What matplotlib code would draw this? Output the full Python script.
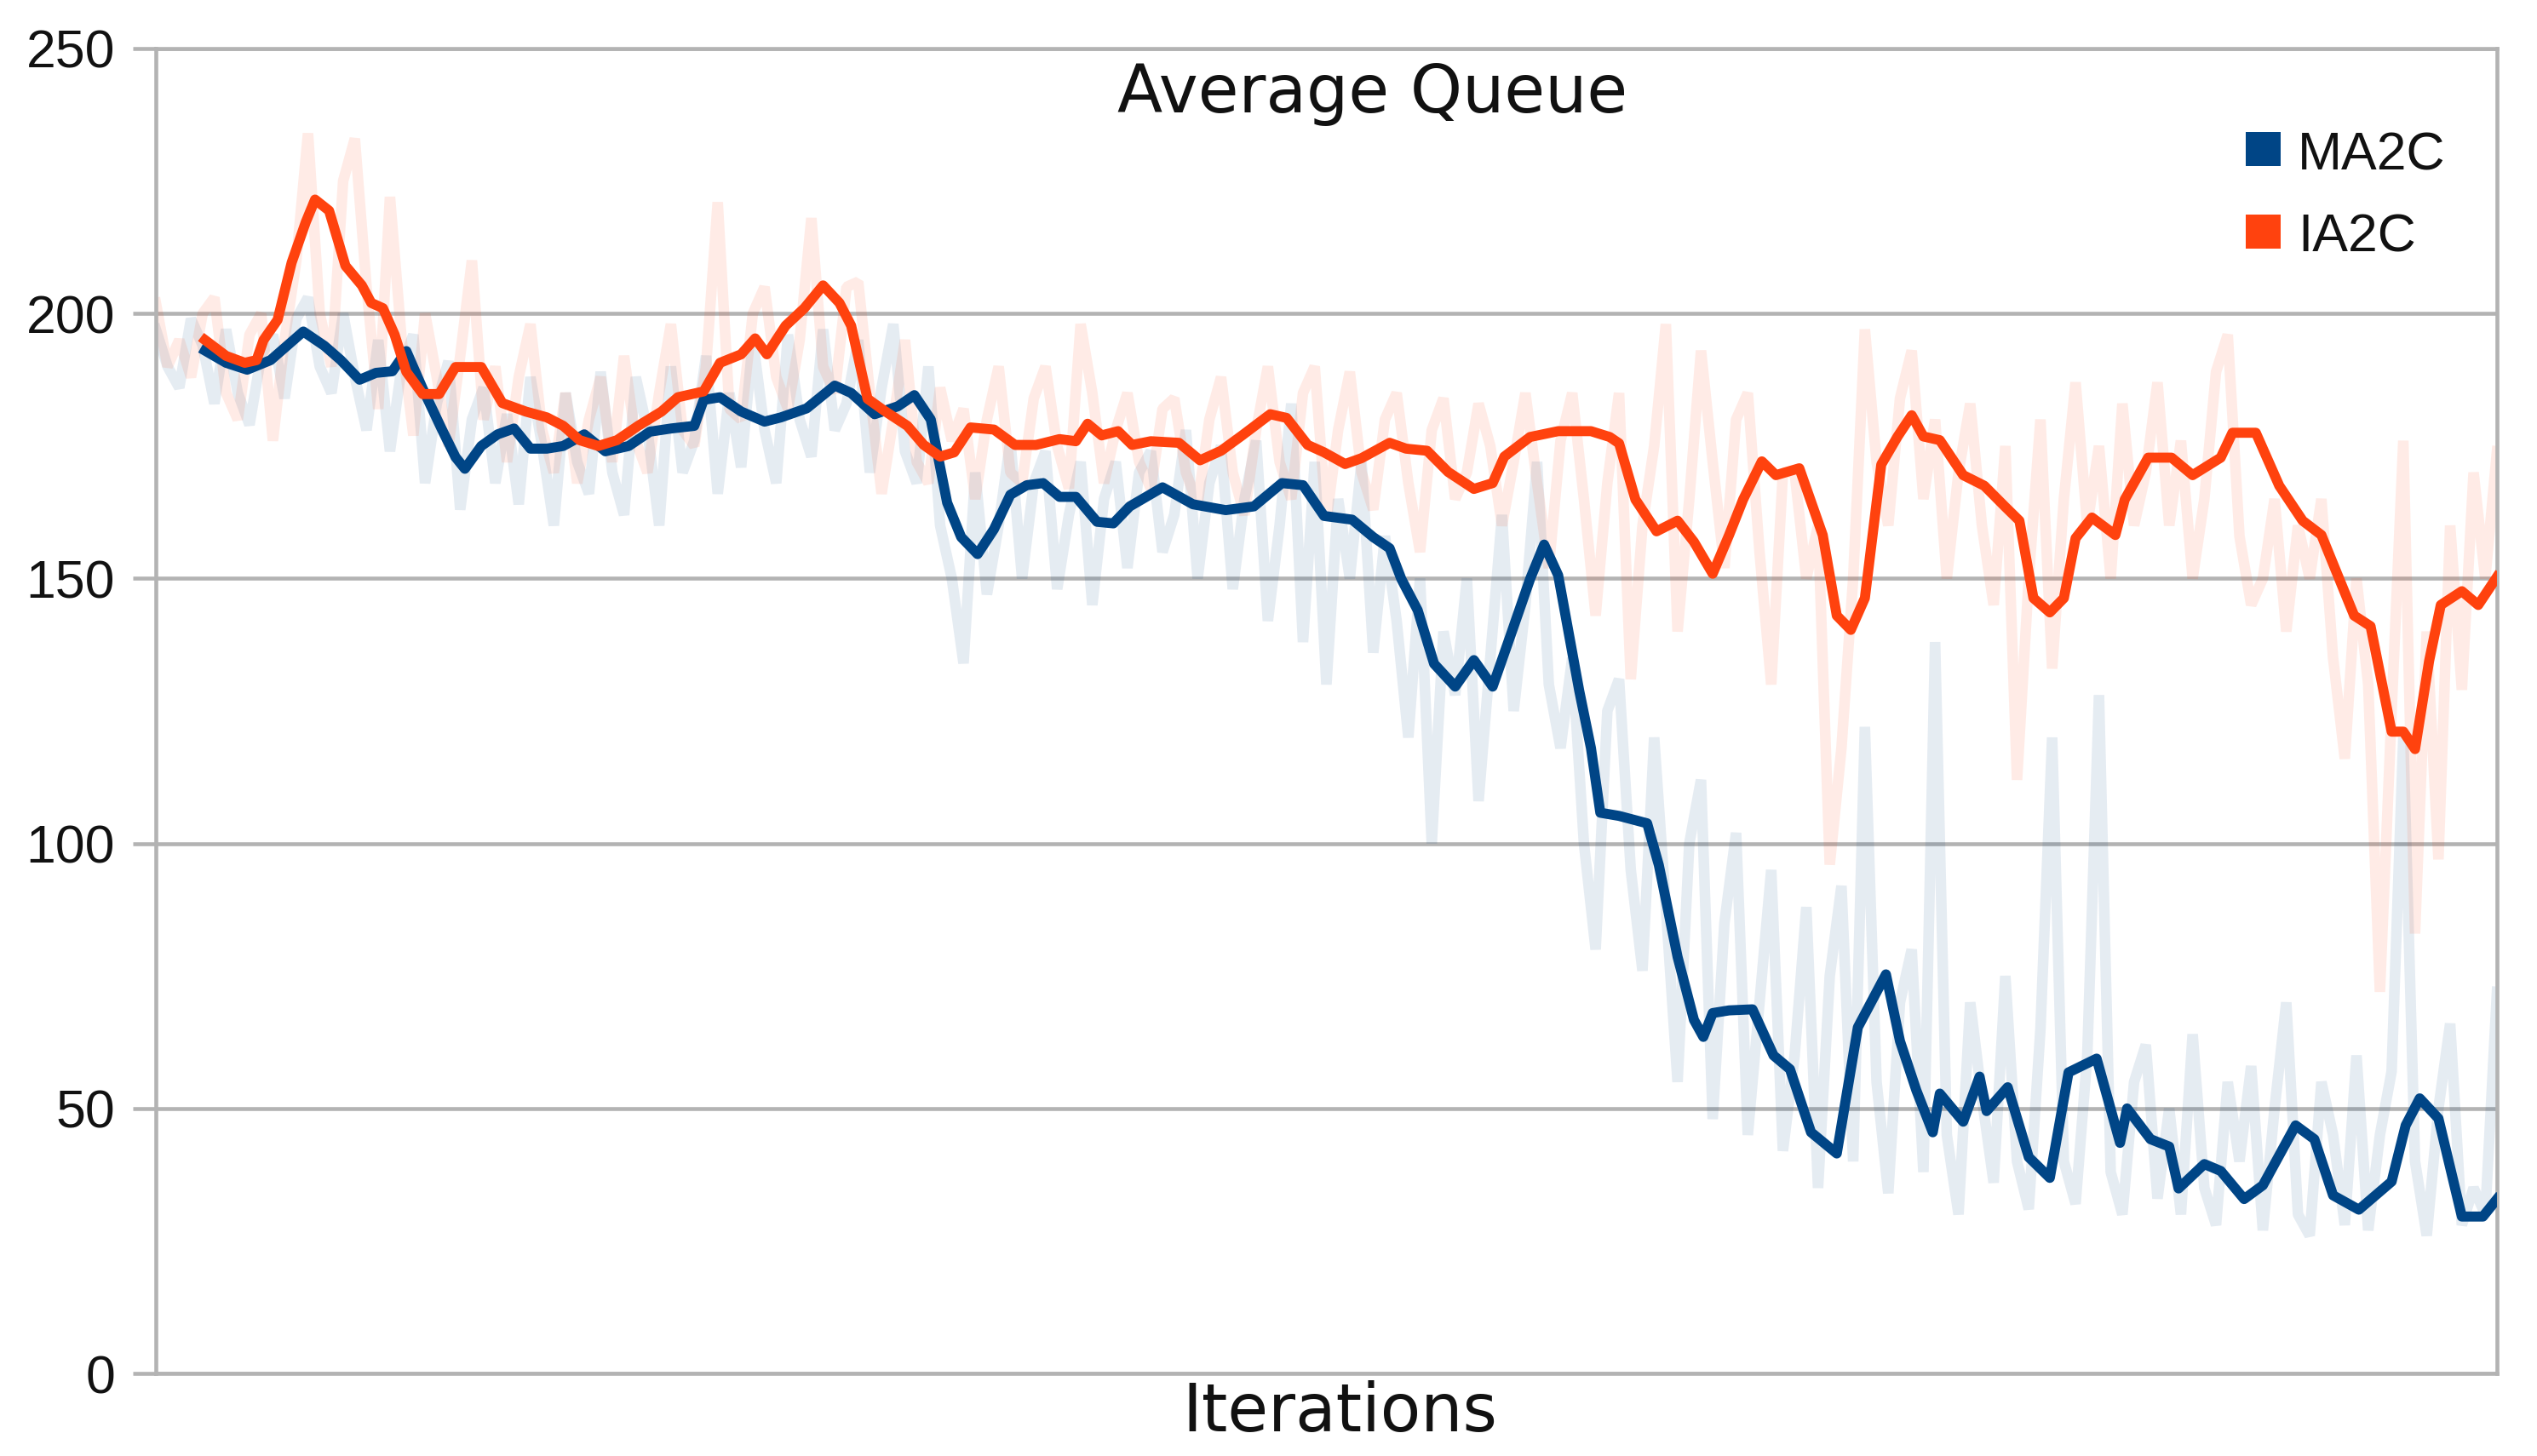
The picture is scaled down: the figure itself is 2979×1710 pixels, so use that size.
import numpy as np
import matplotlib
matplotlib.use("Agg")
import matplotlib.pyplot as plt
from matplotlib.patches import Rectangle

# ---------------- data ----------------
series_names = ["MA2C", "IA2C"]
series_colors = ["#004586", "#ff420e"]

# raw (noisy) samples, every 5 iterations over 0..1000
raw_iter = np.arange(0, 1001, 5)
ma2c_raw = [197, 190, 186, 199, 194, 183, 197, 185, 179, 192,
            196, 184, 199, 203, 190, 185, 200, 188, 178, 195,
            174, 190, 196, 168, 183, 191, 163, 180, 186, 168,
            181, 164, 188, 175, 160, 185, 172, 166, 189, 170,
            162, 188, 178, 160, 190, 170, 176, 192, 166, 185,
            171, 195, 178, 168, 196, 180, 173, 197, 178, 183,
            195, 170, 186, 198, 174, 168, 190, 160, 150, 134,
            170, 147, 160, 176, 150, 168, 174, 148, 162, 172,
            145, 165, 172, 152, 170, 174, 155, 162, 178, 150,
            168, 175, 148, 165, 176, 142, 160, 183, 138, 172,
            130, 165, 150, 172, 136, 158, 142, 120, 150, 100,
            140, 128, 150, 108, 135, 162, 125, 145, 172, 130,
            118, 135, 100, 80, 125, 131, 95, 76, 120, 88,
            55, 100, 112, 48, 85, 102, 45, 70, 95, 42,
            60, 88, 35, 75, 92, 40, 122, 55, 34, 70,
            80, 38, 138, 45, 30, 70, 52, 36, 75, 40,
            31, 65, 120, 40, 32, 60, 128, 38, 30, 55,
            62, 33, 50, 30, 64, 35, 28, 55, 40, 58,
            27, 50, 70, 30, 26, 55, 45, 28, 60, 27,
            45, 57, 120, 40, 26, 50, 66, 28, 35, 30,
            72]
ia2c_raw = [202, 190, 195, 188, 200, 203, 185, 180, 196, 200,
            176, 195, 210, 234, 200, 190, 225, 233, 205, 182,
            222, 195, 177, 200, 188, 175, 192, 210, 180, 190,
            172, 188, 198, 178, 170, 185, 168, 180, 188, 172,
            192, 176, 170, 185, 198, 178, 175, 190, 221, 182,
            180, 200, 205, 188, 182, 195, 218, 190, 185, 205,
            206, 185, 166, 180, 195, 172, 168, 186, 176, 182,
            165, 180, 190, 170, 168, 184, 190, 175, 167, 198,
            185, 168, 178, 185, 172, 167, 182, 184, 170, 164,
            180, 188, 170, 162, 178, 190, 172, 165, 185, 190,
            161, 178, 189, 170, 163, 180, 185, 168, 155, 178,
            184, 165, 170, 183, 175, 160, 172, 185, 168, 152,
            176, 185, 165, 143, 168, 185, 131, 160, 175, 198,
            140, 165, 193, 172, 152, 180, 185, 155, 130, 170,
            170, 150, 160, 96, 118, 150, 197, 172, 160, 184,
            193, 165, 180, 150, 170, 183, 160, 145, 175, 112,
            150, 180, 133, 165, 187, 160, 175, 150, 183, 160,
            170, 187, 160, 176, 150, 165, 189, 196, 158, 145,
            150, 165, 140, 160, 150, 165, 135, 116, 150, 130,
            72, 125, 176, 83, 140, 97, 160, 129, 170, 150,
            174]

# smoothed (moving average) curves
ma2c_iter = [21, 30, 39, 49, 63, 72, 79, 87, 94, 101, 107, 114, 122, 128, 132,
             139, 146, 153, 160, 167, 174, 183, 192, 202, 211, 220, 230, 234,
             241, 250, 260, 267, 278, 290, 297, 307, 317, 324, 331, 338, 344,
             351, 358, 365, 372, 379, 386, 393, 402, 409, 416, 430, 443, 457,
             469, 481, 490, 499, 511, 520, 527, 532, 539, 546, 555, 563, 571,
             579, 587, 593, 599, 608, 613, 617, 625, 637, 642, 650, 657, 661,
             665, 672, 682, 691, 698, 707, 718, 727, 739, 745, 752, 759, 762,
             772, 779, 782, 791, 800, 809, 817, 829, 839, 842, 852, 860, 864,
             875, 882, 892, 900, 914, 922, 930, 941, 955, 961, 967, 975, 985,
             994, 1000]
ma2c_smooth = [193, 190.7, 189.4, 191.2, 196.6, 193.9, 191.2, 187.5, 188.8,
               189.1, 192.9, 185.8, 178.3, 172.9, 170.7, 175, 177.2, 178.3,
               174.5, 174.5, 175, 177.2, 174, 175, 177.7, 178.3, 178.8, 183.7,
               184.2, 181.5, 179.6, 180.4, 182.1, 186.4, 185, 181, 182.5, 184.6,
               180, 164.3, 157.8, 154.6, 159.3, 165.8, 167.6, 168, 165.4, 165.4,
               160.7, 160.4, 163.6, 167.2, 164, 162.9, 163.6, 168, 167.6, 161.8,
               161.1, 157.8, 155.7, 149.9, 144, 133.9, 129.6, 134.6, 129.6,
               139.7, 149.9, 156.4, 150.6, 128.8, 118, 105.8, 105.2, 103.8,
               95.9, 78.6, 66.7, 63.5, 68, 68.5, 68.7, 60, 57.4, 45.5, 41.5,
               65.3, 75.3, 62.7, 53.4, 45.5, 52.8, 47.5, 56, 49.5, 54, 40.8,
               36.9, 56.8, 59.4, 43.5, 50, 44.2, 42.8, 34.9, 39.5, 38.2, 32.9,
               35.5, 46.8, 44.2, 33.6, 30.9, 36.2, 46.8, 51.9, 48.1, 29.6, 29.6,
               32.9]

ia2c_iter = [21, 30, 38, 43, 46, 52, 58, 64, 68, 74, 81, 88, 92, 97, 102, 107,
             114, 121, 128, 139, 148, 158, 167, 174, 181, 189, 197, 206, 216,
             223, 234, 241, 250, 256, 261, 269, 277, 285, 292, 297, 304, 311,
             321, 328, 335, 341, 348, 358, 367, 376, 386, 393, 398, 404, 411,
             417, 425, 437, 446, 455, 464, 476, 483, 492, 499, 508, 515, 527,
             534, 543, 552, 563, 571, 576, 587, 599, 613, 621, 625, 632, 641,
             650, 657, 665, 672, 678, 686, 692, 702, 712, 718, 724, 730, 737,
             744, 750, 755, 762, 772, 781, 790, 796, 802, 809, 815, 820, 827,
             837, 841, 851, 861, 870, 882, 887, 897, 907, 917, 925, 939, 946,
             955, 960, 965, 971, 976, 985, 992, 1000]
ia2c_smooth = [195, 192, 190.7, 191.2, 195, 198.8, 209.6, 217.2, 221.5, 219.4,
               209, 205.3, 202, 201, 196, 189, 184.8, 184.8, 189.9, 189.9,
               183.1, 181.5, 180.4, 178.8, 176.1, 175, 176.1, 178.8, 181.5,
               184.2, 185.3, 190.7, 192.3, 195.3, 192.3, 197.7, 201, 205.3, 202,
               197.7, 183.9, 181.7, 178.8, 175.2, 173, 173.8, 178.5, 178.1,
               175.2, 175.2, 176.3, 175.9, 179.2, 177, 177.8, 175.2, 175.9,
               175.6, 172.3, 174.1, 177, 181, 180.3, 175.2, 173.8, 171.6, 172.7,
               175.6, 174.5, 174.1, 170.1, 166.9, 168, 173, 176.7, 177.8, 177.8,
               176.7, 175.5, 164.9, 158.9, 160.9, 156.9, 150.9, 158.2, 164.9,
               172.1, 169.5, 170.8, 158.2, 143, 140.3, 146.3, 171.5, 176.8,
               180.8, 176.8, 176.1, 169.5, 167.5, 163.5, 160.9, 146.3, 143.6,
               146.3, 157.6, 161.5, 158.2, 164.9, 172.8, 172.8, 169.5, 172.8,
               177.5, 177.5, 167.5, 160.9, 158.2, 143, 141, 121.1, 121.1, 117.8,
               134.4, 145, 147.6, 145, 150.3]

y_ticks = [0, 50, 100, 150, 200, 250]
title_text = "Average Queue"
xlabel_text = "Iterations"

# ---------------- figure ----------------
W, H = 2979, 1710
fig = plt.figure(figsize=(W / 100, H / 100), dpi=100)
fig.patch.set_facecolor("white")

ax_l, ax_r, ax_t, ax_b = 183, 2932, 57, 1613
ax = fig.add_axes([ax_l / W, 1 - ax_b / H, (ax_r - ax_l) / W, (ax_b - ax_t) / H])

grid_c = "#b3b3b3"

# faint raw series
ax.plot(raw_iter, ma2c_raw, color=series_colors[0], alpha=0.10, lw=9,
        solid_joinstyle="bevel", zorder=2)
ax.plot(raw_iter, ia2c_raw, color=series_colors[1], alpha=0.10, lw=9,
        solid_joinstyle="bevel", zorder=2)

# smoothed lines
ax.plot(ma2c_iter, ma2c_smooth, color=series_colors[0], lw=8.5, zorder=4,
        solid_joinstyle="round")
ax.plot(ia2c_iter, ia2c_smooth, color=series_colors[1], lw=8.5, zorder=4,
        solid_joinstyle="round")

ax.set_xlim(0, 1000)
ax.set_ylim(0, 250)
ax.set_xticks([])
ax.set_yticks(y_ticks)
ax.set_yticklabels([str(v) for v in y_ticks])
ax.tick_params(axis="y", length=19.4, width=3.3, color=grid_c, pad=15,
               labelsize=45, labelcolor="#111111",
               labelfontfamily="Liberation Sans")
ax.yaxis.grid(True, color=grid_c, lw=3.3, zorder=1)
ax.set_axisbelow(True)
for s in ax.spines.values():
    s.set_color(grid_c)
    s.set_linewidth(3.3)

# title and axis label
fig.text(1612 / W, 1 - 131.7 / H, title_text, ha="center", va="baseline",
         fontsize=56, family="DejaVu Sans", color="#111111")
fig.text(1573 / W, 1 - 1681 / H, xlabel_text, ha="center", va="baseline",
         fontsize=56, family="DejaVu Sans", color="#111111")

# legend
leg_rows = [(155, 199), (252, 296)]  # square top, text baseline (pixels)
for name, col, (sq_top, base) in zip(series_names, series_colors, leg_rows):
    fig.add_artist(Rectangle((2637 / W, 1 - (sq_top + 40) / H), 41 / W, 40 / H,
                             transform=fig.transFigure, facecolor=col,
                             edgecolor="none"))
    fig.text(2698 / W, 1 - base / H, name, ha="left", va="baseline",
             fontsize=45, family="Liberation Sans", color="#111111")

fig.savefig("out.png", dpi=100, facecolor="white")
